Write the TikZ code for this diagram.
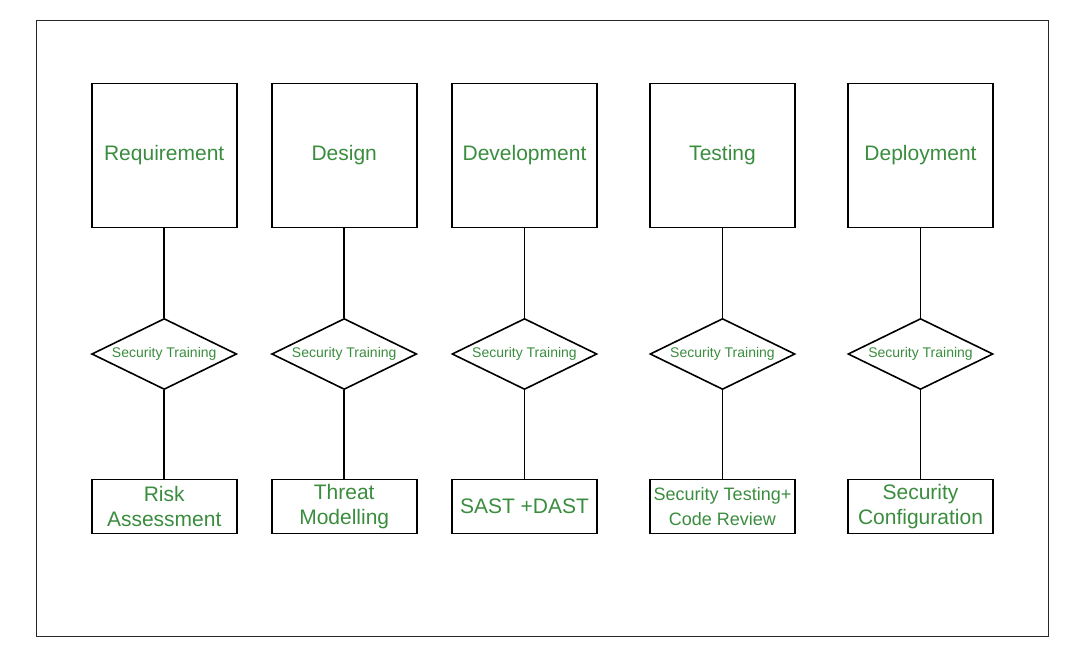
\documentclass[tikz,border=0pt]{standalone}
\usepackage{fontspec}
\setmainfont{Liberation Sans}
\usetikzlibrary{shapes.geometric}
\definecolor{gtxt}{RGB}{58,140,62}
\definecolor{frm}{RGB}{40,40,40}
\tikzset{
  phase/.style={draw=black, line width=1.6pt, minimum width=145pt, minimum height=144pt, inner sep=0pt, text=gtxt, font=\fontsize{21}{24}\selectfont},
  train/.style={draw=black, line width=1.6pt, shape=diamond, aspect=2, minimum width=145pt, minimum height=71pt, inner sep=0pt, text=gtxt, font=\fontsize{14}{16}\selectfont},
  act/.style={draw=black, line width=1.6pt, minimum width=145pt, minimum height=54pt, inner sep=0pt, text=gtxt, align=center, font=\fontsize{21}{25}\selectfont},
  acts/.style={act, font=\fontsize{18}{25}\selectfont},
  link/.style={draw=black, line width=1.6pt}
}
\begin{document}
\begin{tikzpicture}[x=1pt,y=-1pt]
\useasboundingbox (0,0) rectangle (1073,661);
\draw[frm, line width=1pt] (36.5,20.5) rectangle (1048.5,636);
% columns
\node[phase] (p1) at (164.2,155.3) {Requirement};
\node[phase] (p2) at (344.2,155.3) {Design};
\node[phase] (p3) at (524.5,155.3) {Development};
\node[phase] (p4) at (722.5,155.3) {Testing};
\node[phase] (p5) at (920.5,155.3) {Deployment};
\foreach \i/\x in {1/164.2,2/344.2,3/524.5,4/722.5,5/920.5}{
  \node[train] (t\i) at (\x,354) {Security Training};
}
\node[act] (a1) at (164.2,506.3) {Risk\\Assessment};
\node[act] (a2) at (344.2,506.3) {Threat\\Modelling};
\node[act] (a3) at (524.5,506.3) {SAST +DAST};
\node[acts] (a4) at (722.5,506.3) {Security Testing+\\Code Review};
\node[act] (a5) at (920.5,506.3) {Security\\Configuration};
\foreach \i in {1,...,5}{
  \draw[link] (p\i.south) -- (t\i.north);
  \draw[link] (t\i.south) -- (a\i.north);
}
\end{tikzpicture}
\end{document}
